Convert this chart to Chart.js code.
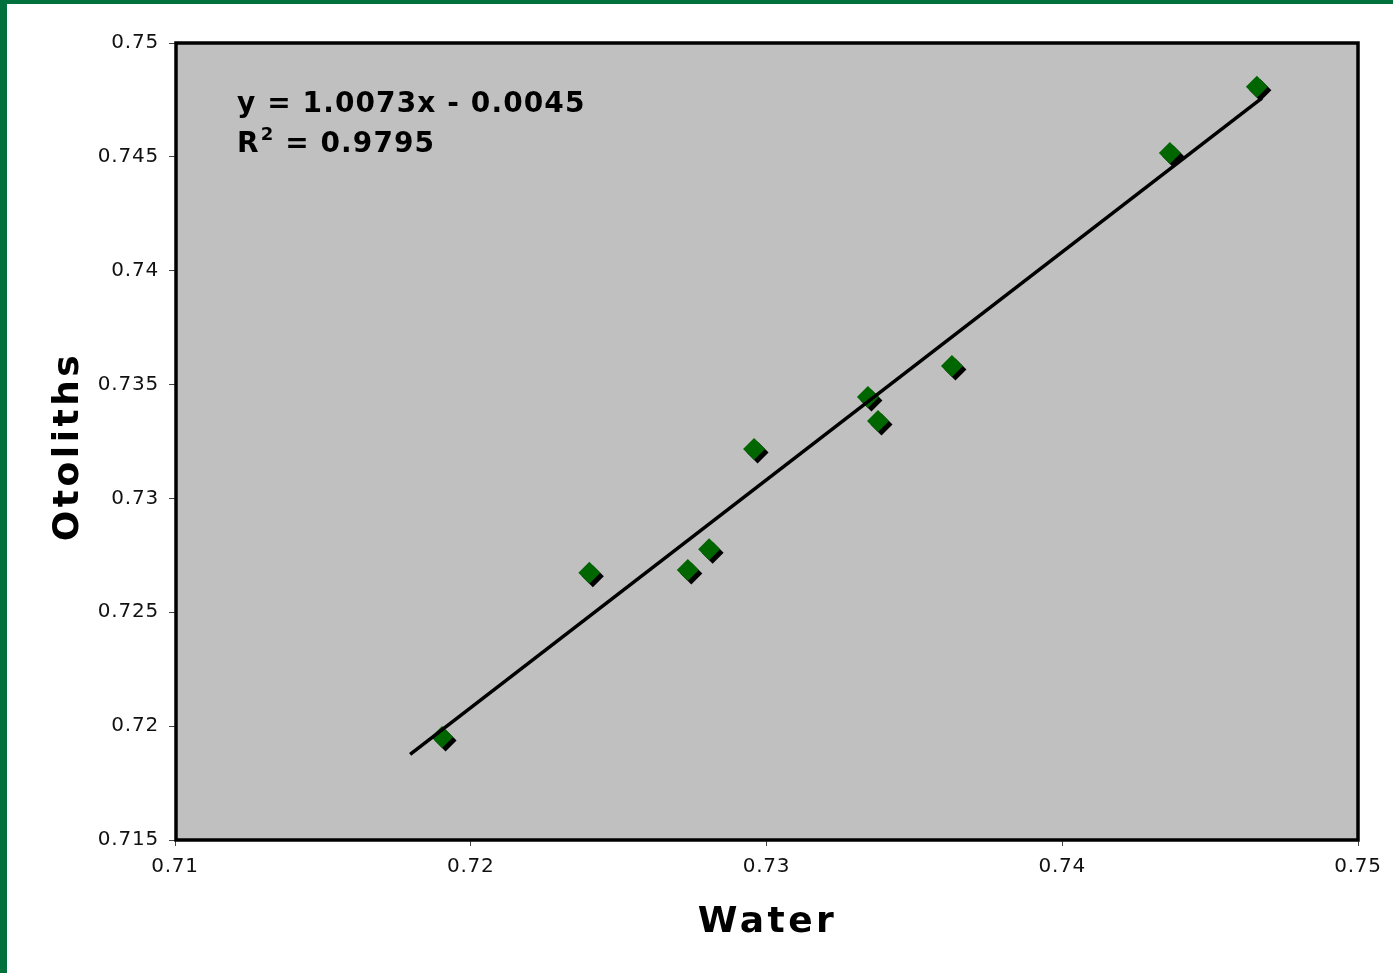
<!DOCTYPE html>
<html>
<head>
<meta charset="utf-8">
<script src="https://cdn.jsdelivr.net/npm/chart.js@4.4.1/dist/chart.umd.min.js"></script>
<style>
  body { margin: 0; background: #fff; }
  #wrap {
    position: absolute; left: 0; top: 0;
    width: 1386px; height: 969px;
    border-left: 7px solid #00713D;
    border-top: 4px solid #00713D;
  }
  canvas { display: block; }
</style>
</head>
<body>
<div id="wrap"><canvas id="canvas" width="1386" height="969"></canvas></div>
<script>
// values
const waterValues = [0.71903, 0.72401, 0.72734, 0.72806, 0.72958, 0.73343, 0.73377, 0.73627, 0.74364, 0.74658];
const otolithValues = [0.71952, 0.72674, 0.72686, 0.72777, 0.73217, 0.73445, 0.73340, 0.73582, 0.74517, 0.74808];
// trendline end points as drawn
const trendX = [0.71795, 0.74675];
const trendY = [0.71876, 0.74758];

const xTicks = [0.71, 0.72, 0.73, 0.74, 0.75];
const xTickLabels = ["0.71", "0.72", "0.73", "0.74", "0.75"];
const yTicks = [0.715, 0.72, 0.725, 0.73, 0.735, 0.74, 0.745, 0.75];
const yTickLabels = ["0.715", "0.72", "0.725", "0.73", "0.735", "0.74", "0.745", "0.75"];

const xTitle = "Water";
const yTitle = "Otoliths";
const eqText = "y = 1.0073x - 0.0045";
const r2Value = "0.9795";

const points = waterValues.map((x, i) => ({x: x, y: otolithValues[i]}));
const trend = trendX.map((x, i) => ({x: x, y: trendY[i]}));

const plotStyle = {
    id: 'plotStyle',
    beforeDraw(chart) {
        const ctx = chart.ctx;
        const a = chart.chartArea;
        ctx.save();
        ctx.fillStyle = '#C0C0C0';
        ctx.fillRect(a.left, a.top, a.right - a.left, a.bottom - a.top);
        ctx.restore();
        ctx.letterSpacing = '0.8px';
    },
    beforeDatasetDraw(chart, args) {
        if (args.index !== 0) return;
        const ctx = chart.ctx;
        ctx.save();
        ctx.shadowColor = '#000';
        ctx.shadowOffsetX = 3.5;
        ctx.shadowOffsetY = 3.5;
        ctx.shadowBlur = 0;
    },
    afterDatasetDraw(chart, args) {
        if (args.index !== 0) return;
        chart.ctx.restore();
    },
    afterDraw(chart) {
        const ctx = chart.ctx;
        const a = chart.chartArea;
        ctx.save();
        ctx.strokeStyle = '#000';
        ctx.lineWidth = 3.5;
        ctx.strokeRect(a.left + 1, a.top, a.right - a.left - 1, a.bottom - a.top);

        ctx.fillStyle = '#000';
        // axis titles
        ctx.font = 'bold 36px "DejaVu Sans"';
        ctx.letterSpacing = '3.5px';
        ctx.textAlign = 'center';
        ctx.textBaseline = 'middle';
        ctx.fillText(xTitle, (a.left + a.right) / 2 + 1, a.bottom + 83);
        ctx.save();
        ctx.translate(62, (a.top + a.bottom) / 2 + 6);
        ctx.rotate(-Math.PI / 2);
        ctx.fillText(yTitle, 1, 0);
        ctx.restore();

        // equation
        ctx.textAlign = 'left';
        ctx.textBaseline = 'alphabetic';
        ctx.letterSpacing = '1.1px';
        ctx.font = 'bold 28px "DejaVu Sans"';
        const ex = a.left + 62;
        ctx.fillText(eqText, ex, a.top + 69);
        let x = ex;
        const y2 = a.top + 109;
        ctx.fillText("R", x, y2);
        x += ctx.measureText("R").width;
        ctx.font = 'bold 18px "DejaVu Sans"';
        ctx.fillText("2", x + 1, y2 - 12);
        x += ctx.measureText("2").width + 1;
        ctx.font = 'bold 28px "DejaVu Sans"';
        ctx.fillText(" = " + r2Value, x, y2);
        ctx.restore();
    }
};

const ctx = document.getElementById('canvas').getContext('2d');
const chart = new Chart(ctx, {
    type: 'scatter',
    data: {
        datasets: [
            {
                label: 'Otoliths',
                data: points,
                order: 1,
                pointStyle: 'rectRot',
                pointRadius: 11,
                pointHoverRadius: 11,
                pointBackgroundColor: '#006600',
                pointBorderWidth: 0,
                showLine: false
            },
            {
                type: 'line',
                label: 'trend',
                data: trend,
                order: 0,
                borderColor: '#000',
                borderWidth: 3.5,
                pointRadius: 0,
                fill: false
            }
        ]
    },
    options: {
        responsive: false,
        animation: false,
        events: [],
        layout: {padding: {left: 0, top: 39, right: 35, bottom: 0}},
        plugins: {
            legend: {display: false},
            tooltip: {enabled: false}
        },
        scales: {
            x: {
                type: 'linear',
                position: 'bottom',
                min: 0.71,
                max: 0.75,
                afterBuildTicks: axis => { axis.ticks = xTicks.map(v => ({value: v})); },
                afterFit: axis => { axis.height = 133; },
                ticks: {
                    autoSkip: false,
                    maxRotation: 0,
                    padding: 9,
                    color: '#111',
                    font: {family: 'DejaVu Sans', size: 20},
                    callback: (v, i) => xTickLabels[i]
                },
                grid: {
                    drawOnChartArea: false,
                    tickLength: 6,
                    tickColor: '#444',
                    tickWidth: 1
                },
                border: {display: false}
            },
            y: {
                type: 'linear',
                position: 'left',
                min: 0.715,
                max: 0.75,
                afterBuildTicks: axis => { axis.ticks = yTicks.map(v => ({value: v})); },
                afterFit: axis => { axis.width = 168; },
                ticks: {
                    autoSkip: false,
                    padding: 10,
                    color: '#111',
                    font: {family: 'DejaVu Sans', size: 20},
                    callback: (v, i) => yTickLabels[i]
                },
                grid: {
                    drawOnChartArea: false,
                    tickLength: 6,
                    tickColor: '#444',
                    tickWidth: 1
                },
                border: {display: false}
            }
        }
    },
    plugins: [plotStyle]
});
</script>
</body>
</html>
